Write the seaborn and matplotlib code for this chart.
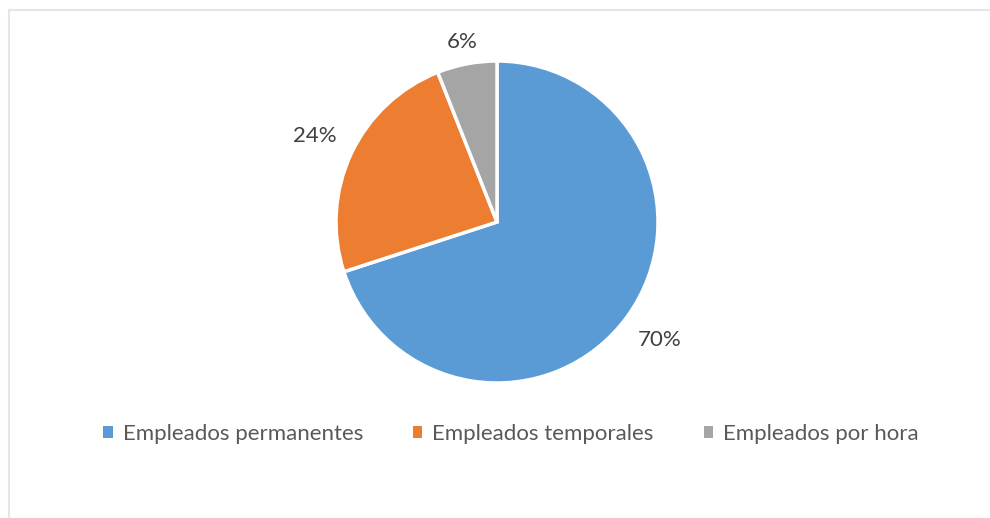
from matplotlib import pyplot as plt
from matplotlib.lines import Line2D
from matplotlib.patches import Patch
import numpy as np
import seaborn as sns

# datos del grafico
categorias = ["Empleados permanentes", "Empleados temporales", "Empleados por hora"]
porcentajes = [70, 24, 6]
colores = ["#5B9BD5", "#ED7D31", "#A5A5A5"]

sns.set_theme(style="white")
plt.rcParams["font.family"] = ["Lato", "DejaVu Sans"]

W, H = 990, 518
fig = plt.figure(figsize=(W / 100, H / 100), dpi=100)

# marco gris claro (abierto por la derecha y abajo)
fig.add_artist(Line2D([8.5 / W, 8.5 / W], [0, 1 - 9.5 / H], color="#E6E6E6", lw=1.5))
fig.add_artist(Line2D([8.5 / W, 1], [1 - 9.5 / H, 1 - 9.5 / H], color="#E6E6E6", lw=1.5))

cx, cy, r = 497, 222, 161
ax = fig.add_axes([(cx - r) / W, (H - cy - r) / H, 2 * r / W, 2 * r / H])
wedges, textos, pcts = ax.pie(
    porcentajes, colors=colores, startangle=90, counterclock=False,
    autopct=lambda p: f"{p:.0f}%", pctdistance=1.2, radius=1,
    wedgeprops=dict(edgecolor="white", linewidth=2.5),
    textprops=dict(color="#404040", fontsize=16))

# distancia de cada etiqueta al centro
distancias = [1.25, 1.25, 1.14]
for w, t, d in zip(wedges, pcts, distancias):
    ang = np.deg2rad((w.theta1 + w.theta2) / 2)
    t.set_position((d * np.cos(ang), d * np.sin(ang)))

ax.set_xlim(-1, 1)
ax.set_ylim(-1, 1)
ax.set_aspect("equal")
ax.axis("off")

handles = [Patch(facecolor=c, edgecolor="none") for c in colores]
fig.legend(handles, categorias, loc="center", bbox_to_anchor=(511 / W, 1 - 434 / H),
           ncol=3, frameon=False, fontsize=16, handlelength=0.42, handleheight=0.42,
           handletextpad=0.45, columnspacing=2.25, labelcolor="#595959")

fig.savefig("out.png", dpi=100)
